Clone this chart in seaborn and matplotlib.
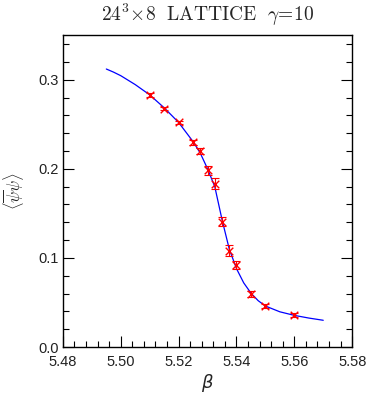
import numpy as np
import pandas as pd
import matplotlib
matplotlib.use("Agg")
import matplotlib.pyplot as plt
import seaborn as sns
from matplotlib.ticker import MultipleLocator

# measured points
beta = [5.510, 5.515, 5.520, 5.525, 5.5275, 5.530, 5.5325,
        5.535, 5.5375, 5.540, 5.545, 5.550, 5.560]
pbp = [0.283, 0.2675, 0.252, 0.2296, 0.220, 0.1984, 0.1834,
       0.1406, 0.108, 0.092, 0.0594, 0.0459, 0.0357]
pbp_err = [0.002, 0.002, 0.002, 0.003, 0.003, 0.005, 0.006,
           0.005, 0.006, 0.005, 0.003, 0.002, 0.002]

# fit curve
fit_beta = [5.495, 5.4975, 5.500, 5.505, 5.510, 5.515, 5.520, 5.525, 5.5275,
            5.530, 5.5325, 5.535, 5.5375, 5.540, 5.5425, 5.545, 5.5475,
            5.550, 5.555, 5.560, 5.565, 5.570]
fit_pbp = [0.312, 0.3085, 0.3045, 0.2945, 0.283, 0.2685, 0.252, 0.2305,
           0.2175, 0.200, 0.180, 0.143, 0.110, 0.088, 0.072, 0.0605, 0.052,
           0.046, 0.0395, 0.0355, 0.0325, 0.030]

df = pd.DataFrame({"beta": beta, "pbp": pbp})
fit = pd.DataFrame({"beta": fit_beta, "pbp": fit_pbp})

sns.set_style("ticks")
plt.rcParams["font.family"] = ["Liberation Sans", "DejaVu Sans"]

fig = plt.figure(figsize=(3.68, 3.95), dpi=100)
ax = fig.add_axes([0.171, 0.1215, 0.786, 0.7895])

sns.lineplot(data=fit, x="beta", y="pbp", color="#0000ff", linewidth=0.9, ax=ax)
ax.errorbar(beta, pbp, yerr=pbp_err, fmt="none", ecolor="#ff0000",
            elinewidth=0.8, capsize=3, capthick=0.8)
sns.scatterplot(data=df, x="beta", y="pbp", marker="x", color="#ff0000",
                s=30, linewidth=1.0, ax=ax, zorder=3)

ax.set_xlim(5.48, 5.58)
ax.set_ylim(0.0, 0.35)
ax.xaxis.set_major_locator(MultipleLocator(0.02))
ax.xaxis.set_minor_locator(MultipleLocator(0.004))
ax.yaxis.set_major_locator(MultipleLocator(0.1))
ax.yaxis.set_minor_locator(MultipleLocator(0.02))
ax.xaxis.set_major_formatter(matplotlib.ticker.FormatStrFormatter("%.2f"))
ax.yaxis.set_major_formatter(matplotlib.ticker.FormatStrFormatter("%.1f"))
ax.tick_params(which="both", direction="in", right=True, top=False,
               labelsize=10.5, width=0.8, color="black", labelcolor="#222222",
               pad=3)
ax.tick_params(axis="x", which="both", pad=6)
ax.tick_params(which="major", length=8)
ax.tick_params(which="minor", length=4)
for s in ax.spines.values():
    s.set_linewidth(1.0)
    s.set_color("black")

ax.set_xlabel(r"$\beta$", fontsize=13, math_fontfamily="dejavusans", labelpad=2)
ax.set_ylabel(r"$\langle\overline{\psi}\psi\rangle$", fontsize=12,
              math_fontfamily="cm", labelpad=8)
ax.set_title(r"$24^3\!\times\!8\ \ \mathrm{LATTICE}\ \ \gamma\!=\!10$",
             fontsize=14, math_fontfamily="cm", pad=10)

fig.savefig("out.png", dpi=100)
